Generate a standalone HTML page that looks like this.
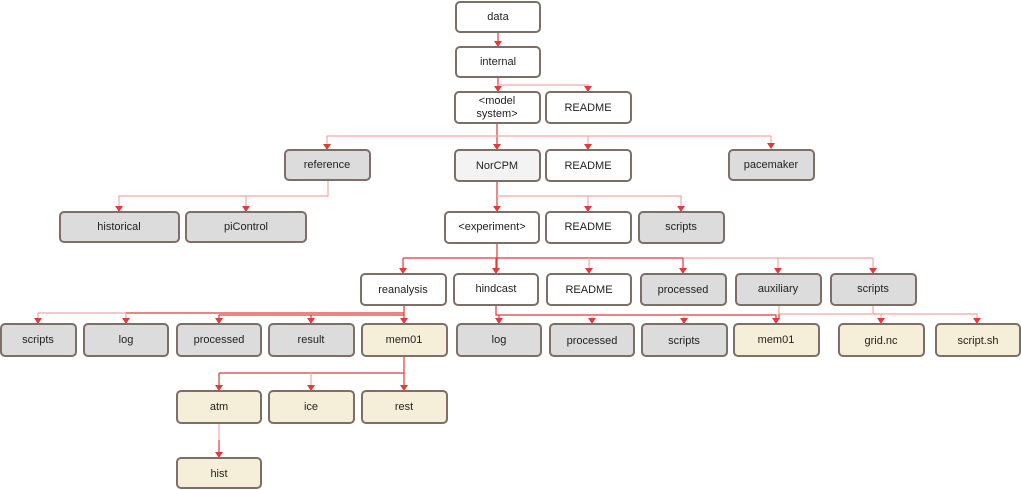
<!DOCTYPE html>
<html><head><meta charset="utf-8"><style>
html,body{margin:0;padding:0;background:#fff;}
svg{display:block;}
text{font-family:"Liberation Sans",Arial,sans-serif;font-size:11px;fill:#222;text-anchor:middle;dominant-baseline:central;}
.n{stroke:#7d6e66;stroke-width:2;}
.w{fill:#fff}.g{fill:#dcdcdc}.b{fill:#f5eed8}.l{fill:#f3f3f3}
.e{fill:none;stroke:#e03a3a;stroke-width:1.2;}
.f{fill:none;stroke:#f2a8a8;stroke-width:1.2;}
.a{fill:#e03a3a;}
</style></head><body>
<svg width="1021" height="490" viewBox="0 0 1021 490">
<!-- connectors -->
<g>
<path class="e" d="M498 32V42"/>
<path class="e" d="M498 77V87"/><path class="f" d="M498 85H588V87"/>
<path class="e" d="M497 123V145"/><path class="f" d="M327 136H771"/><path class="f" d="M327 136V145M588 136V145M771 136V144"/>
<path class="f" d="M328 181V196H119V207M246 196V207"/>
<path class="e" d="M497 181V196V207"/><path class="f" d="M497 196H681V207M588 196V207"/>
<path class="e" d="M497 243V269"/><path class="e" d="M403 258H683"/><path class="f" d="M683 258H873"/>
<path class="e" d="M403 258V269M496 258V269M683 258V269"/><path class="f" d="M589 258V269M778 258V269M873 258V269"/>
<path class="e" d="M404 305V319"/><path class="e" d="M126 313H404M219 315H404"/><path class="f" d="M38 313H126M38 313V319M126 313V319"/><path class="e" d="M219 315V319M311 315V319"/>
<path class="e" d="M496 305V315H776V319M499 315V319"/><path class="f" d="M592 315V319M684 315V319"/>
<path class="f" d="M779 305V314H977V319"/><path class="e" d="M779 314V319"/>
<path class="f" d="M873 305V314H881V319"/>
<path class="e" d="M404 356V386"/><path class="e" d="M219 373H404"/><path class="f" d="M311 373V386"/><path class="e" d="M219 373V386"/>
<path class="f" d="M219 423V440"/><path class="e" d="M219 440V453"/>
</g>
<g class="a">
<path d="M494 41h8l-4 6z"/><path d="M494 86h8l-4 6z"/><path d="M584 86h8l-4 6z"/>
<path d="M323 144h8l-4 6z"/><path d="M493 144h8l-4 6z"/><path d="M584 144h8l-4 6z"/><path d="M767 143h8l-4 6z"/>
<path d="M115 206h8l-4 6z"/><path d="M242 206h8l-4 6z"/><path d="M493 206h8l-4 6z"/><path d="M584 206h8l-4 6z"/><path d="M677 206h8l-4 6z"/>
<path d="M399 268h8l-4 6z"/><path d="M492 268h8l-4 6z"/><path d="M585 268h8l-4 6z"/><path d="M679 268h8l-4 6z"/><path d="M774 268h8l-4 6z"/><path d="M869 268h8l-4 6z"/>
<path d="M34 318h8l-4 6z"/><path d="M122 318h8l-4 6z"/><path d="M215 318h8l-4 6z"/><path d="M307 318h8l-4 6z"/><path d="M400 318h8l-4 6z"/>
<path d="M495 318h8l-4 6z"/><path d="M588 318h8l-4 6z"/><path d="M680 318h8l-4 6z"/><path d="M772 318h8l-4 6z"/><path d="M877 318h8l-4 6z"/><path d="M973 318h8l-4 6z"/>
<path d="M215 385h8l-4 6z"/><path d="M307 385h8l-4 6z"/><path d="M400 385h8l-4 6z"/>
<path d="M215 452h8l-4 6z"/>
</g>
<!-- nodes -->
<g>
<rect class="n w" x="456" y="2" width="84" height="30" rx="4"/><text x="498" y="17">data</text>
<rect class="n w" x="456" y="47" width="84" height="30" rx="4"/><text x="498" y="62">internal</text>
<rect class="n w" x="455" y="92" width="85" height="31" rx="4"/><text x="497" y="101">&lt;model</text><text x="497" y="114">system&gt;</text>
<rect class="n w" x="546" y="92" width="85" height="31" rx="4"/><text x="588" y="108">README</text>
<rect class="n g" x="285" y="150" width="85" height="30" rx="4"/><text x="327" y="165">reference</text>
<rect class="n l" x="455" y="150" width="85" height="31" rx="4"/><text x="497" y="166">NorCPM</text>
<rect class="n w" x="546" y="150" width="85" height="31" rx="4"/><text x="588" y="166">README</text>
<rect class="n g" x="729" y="150" width="85" height="30" rx="4"/><text x="771" y="165">pacemaker</text>
<rect class="n g" x="60" y="212" width="119" height="30" rx="4"/><text x="119" y="227">historical</text>
<rect class="n g" x="186" y="212" width="120" height="30" rx="4"/><text x="246" y="227">piControl</text>
<rect class="n w" x="445" y="212" width="94" height="31" rx="4"/><text x="492" y="227">&lt;experiment&gt;</text>
<rect class="n w" x="546" y="212" width="85" height="31" rx="4"/><text x="588" y="227">README</text>
<rect class="n g" x="639" y="212" width="85" height="31" rx="4"/><text x="681" y="227">scripts</text>
<rect class="n w" x="361" y="274" width="85" height="31" rx="4"/><text x="403" y="290">reanalysis</text>
<rect class="n w" x="454" y="274" width="84" height="31" rx="4"/><text x="496" y="289">hindcast</text>
<rect class="n w" x="547" y="274" width="84" height="31" rx="4"/><text x="589" y="290">README</text>
<rect class="n g" x="641" y="274" width="85" height="31" rx="4"/><text x="683" y="290">processed</text>
<rect class="n g" x="736" y="274" width="85" height="31" rx="4"/><text x="778" y="289">auxiliary</text>
<rect class="n g" x="831" y="274" width="85" height="31" rx="4"/><text x="873" y="289">scripts</text>
<rect class="n g" x="1" y="324" width="75" height="32" rx="4"/><text x="38" y="340">scripts</text>
<rect class="n g" x="84" y="324" width="84" height="32" rx="4"/><text x="126" y="340">log</text>
<rect class="n g" x="177" y="324" width="84" height="32" rx="4"/><text x="219" y="340">processed</text>
<rect class="n g" x="269" y="324" width="85" height="32" rx="4"/><text x="311" y="340">result</text>
<rect class="n b" x="362" y="324" width="85" height="32" rx="4"/><text x="404" y="340">mem01</text>
<rect class="n g" x="457" y="324" width="84" height="32" rx="4"/><text x="499" y="340">log</text>
<rect class="n g" x="550" y="324" width="84" height="32" rx="4"/><text x="592" y="341">processed</text>
<rect class="n g" x="642" y="324" width="85" height="32" rx="4"/><text x="684" y="341">scripts</text>
<rect class="n b" x="734" y="324" width="85" height="32" rx="4"/><text x="776" y="340">mem01</text>
<rect class="n b" x="839" y="324" width="85" height="32" rx="4"/><text x="881" y="341">grid.nc</text>
<rect class="n b" x="936" y="324" width="84" height="32" rx="4"/><text x="978" y="341">script.sh</text>
<rect class="n b" x="177" y="391" width="84" height="32" rx="4"/><text x="219" y="407">atm</text>
<rect class="n b" x="269" y="391" width="85" height="32" rx="4"/><text x="311" y="407">ice</text>
<rect class="n b" x="362" y="391" width="85" height="32" rx="4"/><text x="404" y="407">rest</text>
<rect class="n b" x="177" y="458" width="84" height="30" rx="4"/><text x="219" y="474">hist</text>
</g>
</svg>
</body></html>
